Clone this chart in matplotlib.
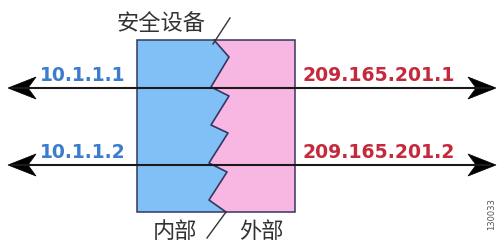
import numpy as np
import matplotlib
matplotlib.use("Agg")
import matplotlib.pyplot as plt
from matplotlib.patches import Polygon, Rectangle

plt.rcParams['font.family'] = ['Noto Sans CJK SC', 'DejaVu Sans']

# diagram content
inside_ips = ["10.1.1.1", "10.1.1.2"]
outside_ips = ["209.165.201.1", "209.165.201.2"]
arrow_rows = [88, 165]          # y of the two traffic lines
device_label = "安全设备"
side_labels = ["内部", "外部"]
fig_id = "130033"

# box and the jagged split between inside and outside
box_x = [137, 295]
box_y = [40, 212]
zig_x = [214, 229, 211, 229, 211, 228, 209, 227, 209, 226]
zig_y = [40, 57, 87, 96, 125, 133, 163, 172, 200, 212]

BLUE = "#80c0f6"
PINK = "#f8b6e2"
EDGE = "#35365f"

fig = plt.figure(figsize=(5.02, 2.46), dpi=100)
ax = fig.add_axes([0, 0, 1, 1])
ax.set_xlim(0, 502)
ax.set_ylim(246, 0)
ax.axis('off')

# blue (inside) half
left_pts = [(box_x[0], box_y[0])] + list(zip(zig_x, zig_y)) + [(box_x[0], box_y[1])]
ax.add_patch(Polygon(left_pts, closed=True, facecolor=BLUE, edgecolor='none'))
# pink (outside) half
right_pts = [(box_x[1], box_y[0])] + list(zip(zig_x, zig_y)) + [(box_x[1], box_y[1])]
ax.add_patch(Polygon(right_pts, closed=True, facecolor=PINK, edgecolor='none'))
ax.add_patch(Rectangle((box_x[0], box_y[0]), box_x[1] - box_x[0], box_y[1] - box_y[0],
                       fill=False, edgecolor=EDGE, lw=1.1))
ax.plot(zig_x, zig_y, color=EDGE, lw=1.2)

# leader slashes for the labels
ax.plot([213, 230], [44, 18], color="#333333", lw=1.0)
ax.plot([226, 207], [212, 238], color="#333333", lw=1.0)


def arrow_head(tip_x, y, direction):
    # dart shaped head, direction = -1 points left, +1 points right
    L, W, notch = 28, 11, 20
    pts = [(tip_x, y),
           (tip_x - direction * L, y - W),
           (tip_x - direction * notch, y),
           (tip_x - direction * L, y + W)]
    ax.add_patch(Polygon(pts, closed=True, facecolor='black', edgecolor='black', lw=0.5))


for y in arrow_rows:
    ax.plot([12, 490], [y, y], color="#1a1a1a", lw=1.5)
    arrow_head(8, y, -1)
    arrow_head(496, y, 1)

for ip, y in zip(inside_ips, arrow_rows):
    ax.text(40, y - 7, ip, color="#3b7ccc", fontsize=13.5, fontweight='bold',
            family='DejaVu Sans', ha='left', va='baseline')
for ip, y in zip(outside_ips, arrow_rows):
    ax.text(303, y - 7, ip, color="#c42a3c", fontsize=13.6, fontweight='bold',
            family='DejaVu Sans', ha='left', va='baseline')

ax.text(161, 23, device_label, color="#333333", fontsize=16, ha='center', va='center')
ax.text(175, 231, side_labels[0], color="#333333", fontsize=16, ha='center', va='center')
ax.text(261, 231, side_labels[1], color="#333333", fontsize=16, ha='center', va='center')

ax.text(492, 214, fig_id, color="#555555", fontsize=6, rotation=90,
        family='DejaVu Sans', ha='center', va='center')

fig.savefig("out.png", dpi=100)
